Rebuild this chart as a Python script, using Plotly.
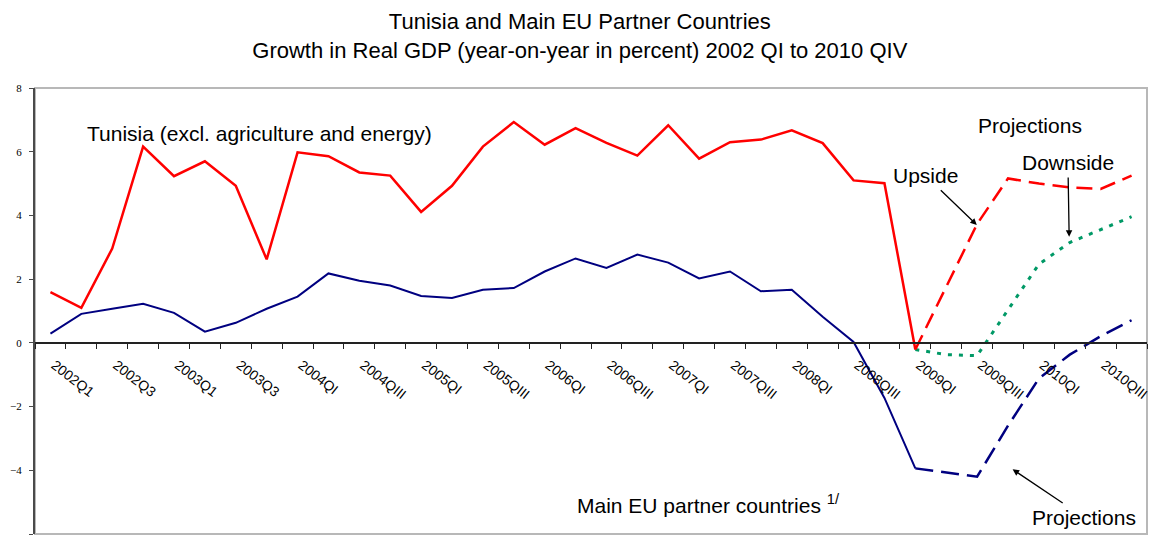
import plotly.graph_objects as go

# ---------------- data ----------------
quarters = [
    "2002Q1", "2002Q2", "2002Q3", "2002Q4",
    "2003Q1", "2003Q2", "2003Q3", "2003Q4",
    "2004QI", "2004QII", "2004QIII", "2004QIV",
    "2005QI", "2005QII", "2005QIII", "2005QIV",
    "2006QI", "2006QII", "2006QIII", "2006QIV",
    "2007QI", "2007QII", "2007QIII", "2007QIV",
    "2008QI", "2008QII", "2008QIII", "2008QIV",
    "2009QI", "2009QII", "2009QIII", "2009QIV",
    "2010QI", "2010QII", "2010QIII", "2010QIV",
]
tick_labels = quarters[::2]

tunisia_actual = [1.59, 1.10, 2.96, 6.16, 5.23, 5.70, 4.93, 2.62, 5.98, 5.86,
                  5.35, 5.25, 4.11, 4.93, 6.16, 6.93, 6.22, 6.74, 6.28, 5.88,
                  6.83, 5.78, 6.30, 6.38, 6.67, 6.27, 5.10, 5.01, -0.21]
tunisia_upside = [-0.21, 1.75, 3.73, 5.16, 5.00, 4.88, 4.83, 5.25]
tunisia_downside = [-0.21, -0.37, -0.40, 1.05, 2.47, 3.15, 3.55, 3.96]
eu_actual = [0.29, 0.91, 1.07, 1.23, 0.94, 0.35, 0.63, 1.07, 1.45, 2.18,
             1.95, 1.80, 1.47, 1.41, 1.67, 1.72, 2.24, 2.65, 2.35, 2.77,
             2.52, 2.02, 2.24, 1.62, 1.67, 0.82, 0.03, -1.73, -3.94]
eu_projection = [-3.94, -4.08, -4.20, -2.60, -1.12, -0.37, 0.21, 0.71]

y_ticks = [8, 6, 4, 2, 0, -2, -4, -6]

# ---------------- positions derived from data ----------------
n = len(quarters)
idx = list(range(n))
proj_start = len(tunisia_actual) - 1
x_actual = idx[:len(tunisia_actual)]
x_proj = idx[proj_start:proj_start + len(tunisia_upside)]
tick_positions = idx[::2]
boundaries = [i - 0.5 for i in range(n + 1)]

RED = "#FF0000"
NAVY = "#000080"
GREEN = "#009966"
SANS = "Liberation Sans, Arial, sans-serif"
SERIF = "Liberation Serif, Times New Roman, serif"

fig = go.Figure()
fig.add_trace(go.Scatter(x=x_actual, y=tunisia_actual, mode="lines",
                         line=dict(color=RED, width=2.5)))
fig.add_trace(go.Scatter(x=x_proj, y=tunisia_downside, mode="lines",
                         line=dict(color=GREEN, width=3, dash="4px,7px")))
fig.add_trace(go.Scatter(x=x_proj, y=tunisia_upside, mode="lines",
                         line=dict(color=RED, width=2.5, dash="16px,8px")))
fig.add_trace(go.Scatter(x=x_actual, y=eu_actual, mode="lines",
                         line=dict(color=NAVY, width=2)))
fig.add_trace(go.Scatter(x=x_proj, y=eu_projection, mode="lines",
                         line=dict(color=NAVY, width=2.5, dash="18px,8px")))

ymin, ymax = -6, 8

fig.update_layout(
    width=1155, height=536, autosize=False,
    margin=dict(l=35, r=8, t=88, b=2),
    paper_bgcolor="white", plot_bgcolor="white",
    showlegend=False,
    title=dict(
        text="Tunisia and Main EU Partner Countries<br>"
             "Growth in Real GDP (year-on-year in percent) 2002 QI to 2010 QIV",
        x=0.502, xanchor="center", y=0.945, yanchor="middle",
        font=dict(family=SANS, size=22, color="black"),
    ),
    xaxis=dict(
        range=[-0.5, n - 0.5],
        anchor="free", position=(0 - ymin) / (ymax - ymin),
        showline=True, linecolor="#222222", linewidth=1.5,
        tickmode="array", tickvals=tick_positions, ticktext=tick_labels,
        ticks="", tickangle=38,
        ticklabelstandoff=8, ticklabelshift=4,
        tickfont=dict(family=SANS, size=14, color="black"),
        minor=dict(tickmode="array", tickvals=boundaries, ticks="outside",
                   ticklen=5, tickwidth=1, tickcolor="#222222", showgrid=False),
        showgrid=False, zeroline=False,
    ),
    yaxis=dict(
        range=[ymin, ymax], tickmode="array", tickvals=y_ticks,
        showline=True, linecolor="#4a4a4a", linewidth=2,
        ticks="outside", ticklen=4, tickcolor="#4a4a4a",
        tickfont=dict(family=SERIF, size=11, color="black"),
        ticklabelstandoff=5,
        showgrid=False, zeroline=False,
    ),
    shapes=[dict(type="rect", xref="paper", yref="paper", x0=0, x1=1, y0=0, y1=1,
                 line=dict(color="#b8b8b8", width=2), layer="below")],
)

txt = dict(family=SANS, size=21, color="black")

# plain labels
for xx, yy, label in [
    (6.78, 6.56, "Tunisia (excl. agriculture and energy)"),
    (31.71, 6.81, "Projections"),
    (21.29, -5.06, "Main EU partner countries <sup>1/</sup>"),
]:
    fig.add_annotation(x=xx, y=yy, xref="x", yref="y", text=label,
                       showarrow=False, xanchor="center", yanchor="middle", font=txt)

# labels with arrows: (text x, text y, arrow head x, arrow head y, text)
for tx, ty, hx, hy, label in [
    (28.34, 5.24, 29.99, 3.70, "Upside"),
    (32.94, 5.66, 32.98, 3.33, "Downside"),
    (33.45, -5.47, 31.15, -3.97, "Projections"),
]:
    fig.add_annotation(x=hx, y=hy, ax=tx, ay=ty, xref="x", yref="y",
                       axref="x", ayref="y", text=label, font=txt,
                       showarrow=True, arrowhead=2, arrowsize=1, arrowwidth=1.3,
                       arrowcolor="black", standoff=0, startstandoff=2)

fig.write_html("out.html", config={"displayModeBar": False},
               post_script="document.body.style.margin='0';")
